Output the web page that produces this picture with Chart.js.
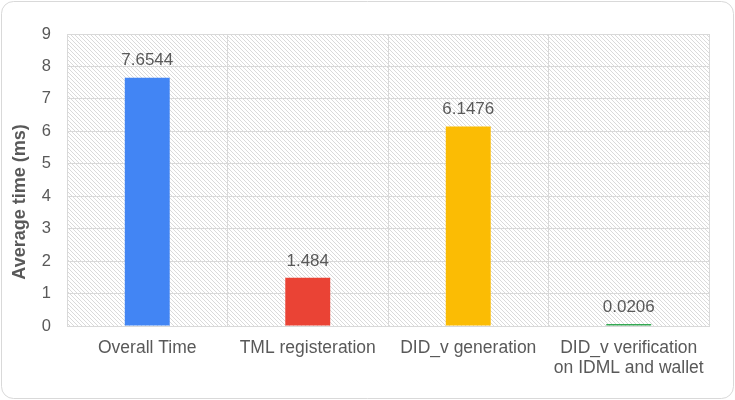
<!DOCTYPE html>
<html>
<head>
<meta charset="utf-8">
<script src="https://cdn.jsdelivr.net/npm/chart.js@4/dist/chart.umd.min.js"></script>
<style>
  html, body { margin: 0; padding: 0; background: #fff; }
  canvas { display: block; }
</style>
</head>
<body>
<canvas id="chart" width="735" height="400"></canvas>
<script>
"use strict";

var categories = ["Overall Time", "TML registeration", "DID_v generation", ["DID_v verification", "on IDML and wallet"]];
var averageTimes = [7.6544, 1.484, 6.1476, 0.0206];
var valueLabels = ["7.6544", "1.484", "6.1476", "0.0206"];
var barColors = ["#4285f4", "#ea4335", "#fbbc04", "#34a853"];
var yTitle = "Average time (ms)";

var textColor = "#595959";
var gridColor = "#d9d9d9";
var fontFamily = "'Liberation Sans', Arial, sans-serif";

// diagonal hatch used behind the plot area
var makeHatch = function() {
  var tile = document.createElement("canvas");
  tile.width = 8;
  tile.height = 8;
  var c = tile.getContext("2d");
  c.strokeStyle = "#dadada";
  c.lineWidth = 1;
  for (var k = -8; k <= 8; k += 4) {
    c.beginPath();
    c.moveTo(k, 0);
    c.lineTo(k + 8, 8);
    c.stroke();
  }
  return c.createPattern(tile, "repeat");
};

var frame = {
  id: "frame",
  beforeDraw: function(chart) {
    var ctx = chart.ctx;
    var area = chart.chartArea;
    ctx.save();
    ctx.fillStyle = "#fff";
    ctx.fillRect(0, 0, chart.width, chart.height);
    ctx.strokeStyle = gridColor;
    ctx.lineWidth = 1;
    ctx.beginPath();
    ctx.roundRect(1.5, 1.5, chart.width - 3, chart.height - 3, 12);
    ctx.stroke();
    ctx.fillStyle = makeHatch();
    ctx.fillRect(area.left, area.top, area.right - area.left, area.bottom - area.top);
    ctx.restore();
  },
  afterDraw: function(chart) {
    var ctx = chart.ctx;
    ctx.save();
    ctx.fillStyle = textColor;
    ctx.font = "bold 18px " + fontFamily;
    ctx.translate(25, 202);
    ctx.rotate(-Math.PI / 2);
    ctx.textAlign = "center";
    ctx.textBaseline = "alphabetic";
    ctx.fillText(yTitle, 0, 0);
    ctx.restore();
  }
};

var barValues = {
  id: "barValues",
  afterDatasetsDraw: function(chart) {
    var ctx = chart.ctx;
    var meta = chart.getDatasetMeta(0);
    ctx.save();
    ctx.fillStyle = textColor;
    ctx.font = "17px " + fontFamily;
    ctx.textAlign = "center";
    ctx.textBaseline = "middle";
    meta.data.forEach(function(bar, i) {
      ctx.fillText(valueLabels[i], bar.x, bar.y - 17);
    });
    ctx.restore();
  }
};

new Chart(document.getElementById("chart"), {
  type: "bar",
  data: {
    labels: categories,
    datasets: [
      {
        data: averageTimes,
        backgroundColor: barColors,
        borderWidth: 0,
        barPercentage: 0.28,
        categoryPercentage: 1,
        minBarLength: 2
      }
    ]
  },
  options: {
    responsive: false,
    animation: false,
    devicePixelRatio: 1,
    layout: {
      padding: { top: 34, right: 26, left: 0, bottom: 0 }
    },
    plugins: {
      legend: { display: false },
      tooltip: { enabled: false }
    },
    scales: {
      x: {
        grid: { color: gridColor, drawTicks: false, offset: true },
        border: { color: gridColor },
        ticks: {
          color: textColor,
          padding: 12,
          maxRotation: 0,
          autoSkip: false,
          font: { family: fontFamily, size: 17.5, lineHeight: 1.15 }
        },
        afterFit: function(scale) {
          scale.height = 74;
        }
      },
      y: {
        min: 0,
        max: 9,
        grid: { color: gridColor, drawTicks: false },
        border: { color: gridColor },
        ticks: {
          stepSize: 1,
          color: textColor,
          padding: 16,
          font: { family: fontFamily, size: 16.5 }
        },
        afterFit: function(scale) {
          scale.width = 67;
        }
      }
    }
  },
  plugins: [frame, barValues]
});
</script>
</body>
</html>
